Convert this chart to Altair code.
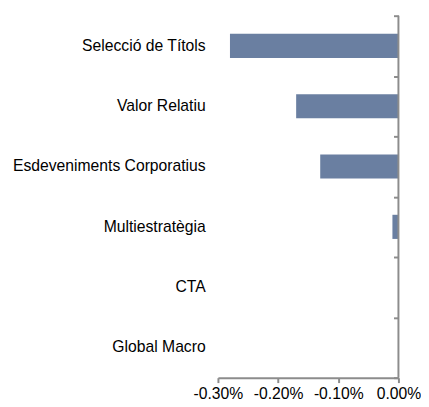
import altair as alt
import pandas as pd

categories = ["Selecció de Títols", "Valor Relatiu", "Esdeveniments Corporatius",
              "Multiestratègia", "CTA", "Global Macro"]
values = [-0.0028, -0.0017, -0.0013, -0.0001, 0.0, 0.0]
x_ticks = [-0.003, -0.002, -0.001, 0.0]
boundaries = [0, 1, 2, 3, 4, 5, 6]  # category band boundaries (axis tick marks)

df = pd.DataFrame({"cat": categories, "val": values})
df_b = pd.DataFrame({"b": boundaries, "val": [0.0] * len(boundaries)})
zero_df = pd.DataFrame({"val": [0.0]})

GRAY = "#8c8c8c"
FONT = "Liberation Sans"

yscale = alt.Scale(domain=categories, paddingInner=0.6, paddingOuter=0.3)
xscale = alt.Scale(domain=[-0.003, 0], nice=False, zero=False)

xaxis = alt.Axis(title=None, values=x_ticks, format=".2%", grid=False,
                 labelExpr="replace(datum.label, '\u2212', '-')",
                 domainColor=GRAY, domainWidth=2, tickColor=GRAY,
                 tickWidth=2, tickSize=5, labelFontSize=16,
                 labelColor="black", labelFont=FONT, labelPadding=3,
                 labelFlush=False, labelOverlap=False)

bars = alt.Chart(df).mark_bar(color="#6a7fa1").encode(
    x=alt.X("val:Q", scale=xscale, axis=xaxis),
    y=alt.Y("cat:N", sort=categories, scale=yscale,
            axis=alt.Axis(title=None, orient="left", domain=False, ticks=False,
                          tickSize=0, grid=False, labelPadding=13,
                          labelFontSize=16, labelFont=FONT, labelColor="black",
                          labelAlign="right", labelLimit=400)),
)

ticks_layer = alt.Chart(df_b).mark_point(opacity=0).encode(
    x=alt.X("val:Q", scale=xscale, axis=xaxis),
    y=alt.Y("b:Q",
            scale=alt.Scale(domain=[0, 6], reverse=True, nice=False, zero=False),
            axis=alt.Axis(title=None, orient="right", offset=-5, domain=False,
                          values=boundaries, labels=False, ticks=True,
                          tickSize=5, tickWidth=2, tickColor=GRAY, grid=False,
                          zindex=1)),
)

rule = alt.Chart(zero_df).mark_rule(color=GRAY, strokeWidth=2).encode(
    x=alt.X("val:Q", scale=xscale, axis=xaxis),
)

chart = alt.layer(bars, ticks_layer, rule).resolve_scale(
    y="independent"
).resolve_axis(
    y="independent"
).properties(
    width=184,
    height=369,
    autosize=alt.AutoSizeParams(type="none"),
    padding={"left": 214, "top": 4, "right": 23, "bottom": 24},
).configure_view(stroke=None)

chart.save("out.html", embed_options={"renderer": "svg", "actions": False})
